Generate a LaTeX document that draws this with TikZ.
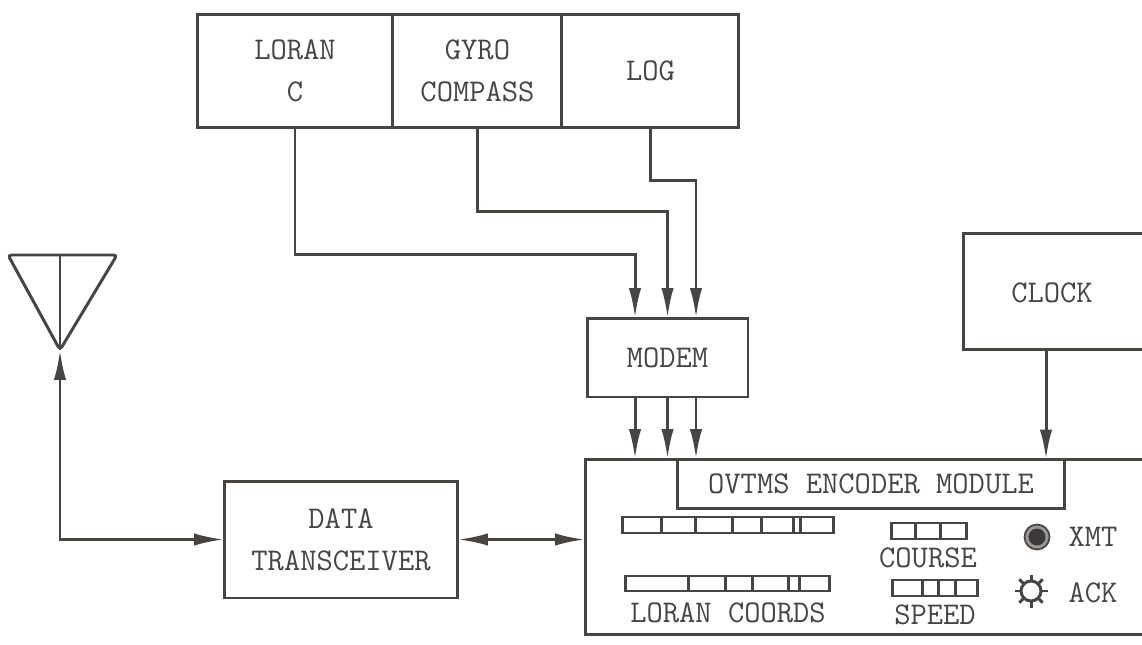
\documentclass[tikz,border=0pt]{standalone}
\usepackage{fontspec}
\usepackage{tikz}
\usetikzlibrary{arrows.meta}
\usetikzlibrary{positioning}
\definecolor{ink}{RGB}{72,68,66}
\newcommand{\typeface}{\ttfamily\fontsize{18}{24}\selectfont}
\tikzset{block/.style={draw=ink, line width=1.7pt, inner sep=0pt, outer sep=0pt, align=center, text=ink, font=\typeface}}
\tikzset{tag/.style={inner sep=0pt, align=center, text=ink, font=\typeface}}
\tikzset{wire/.style={draw=ink, line width=1.7pt}}
\tikzset{flow/.style={wire, -{Latex[length=17pt,width=7pt]}}}
\tikzset{flowboth/.style={wire, {Latex[length=17pt,width=7pt]}-{Latex[length=17pt,width=7pt]}}}

\begin{document}
\begin{tikzpicture}[x=0.02cm,y=-0.02cm]
{
\useasboundingbox (0,0) rectangle (1142,645);
\clip (0,0) rectangle (1142,645);
% sensors
\node[block, minimum width=3.92cm, minimum height=2.28cm] (loran) at (295,71) {LORAN\\C};
\node[block, minimum width=3.38cm, minimum height=2.28cm, right=0pt of loran] (gyro) {GYRO\\COMPASS};
\node[block, minimum width=3.54cm, minimum height=2.28cm, right=0pt of gyro] (log) {LOG};
\node[block, minimum width=3.22cm, minimum height=1.58cm] (modem) at (667.5,357.5) {MODEM};
\node[block, minimum width=4.34cm, minimum height=2.34cm] (clock) at (1071.5,291.5) {};
\node[tag] (clocklbl) at (1052,293) {CLOCK};
\node[block, minimum width=4.68cm, minimum height=2.34cm] (xcvr) at (341,539.5) {DATA\\TRANSCEIVER};
\node[block, minimum width=11.9cm, minimum height=3.52cm] (encoder) at (882.5,547) {};
\node[block, minimum width=7.76cm, minimum height=0.98cm] (module) at (871,484) {OVTMS ENCODER MODULE};
% antenna
\coordinate (antl) at (8,255);
\coordinate (antr) at (117,255);
\coordinate (anttop) at (60,255);
\coordinate (apex) at (60,350);
\draw[wire, rounded corners=2pt] (antl) -- (antr) -- (apex) -- cycle;
\draw[wire] (anttop) -- (apex);
% connections
\draw[flow] (loran.south) -- ++(0,127) -| ([xshift=-0.65cm]modem.north);
\draw[flow] (gyro.south) -- ++(0,84) -| (modem.north);
\draw[flow] (log.south) -- ++(0,53) -| ([xshift=0.57cm]modem.north);
\draw[flow] ([xshift=-0.65cm]modem.south) -- ([xshift=-0.65cm]modem.south |- encoder.north);
\draw[flow] (modem.south) -- (modem.south |- encoder.north);
\draw[flow] ([xshift=0.57cm]modem.south) -- ([xshift=0.57cm]modem.south |- encoder.north);
\draw[flow] ([xshift=-0.51cm]clock.south) -- ([xshift=-0.51cm]clock.south |- module.north);
\draw[flowboth] (apex) |- (xcvr.west);
\draw[flowboth] (xcvr.east) -- (xcvr.east -| encoder.west);
% displays
\draw[wire] (622,517) rectangle (833,533);
\foreach \x in {661,695,732,761,793,800} \draw[wire] (\x,517) -- (\x,533);
\draw[wire] (625,576) rectangle (829,591);
\foreach \x in {688,725,752,788,799} \draw[wire] (\x,576) -- (\x,591);
\draw[wire] (891,523) rectangle (966,539);
\foreach \x in {915,940} \draw[wire] (\x,523) -- (\x,539);
\draw[wire] (892,580) rectangle (977,596);
\foreach \x in {922,938,955} \draw[wire] (\x,580) -- (\x,596);
\node[tag] (coords) at (728,613) {LORAN COORDS};
\node[tag] (course) at (928,558) {COURSE};
\node[tag] (speed) at (935,615) {SPEED};
% lamps
\coordinate (xmtlamp) at (1037,537);
\filldraw[draw=ink, fill=ink!55, line width=1pt] (xmtlamp) circle (0.25cm);
\fill[ink!85!black] (xmtlamp) circle (0.17cm);
\node[tag] (xmt) at (1093,537) {XMT};
\coordinate (acklamp) at (1031,591);
\draw[wire] (acklamp) circle (0.2cm);
\foreach \a in {0,45,...,315} \draw[wire] ([shift={(\a:0.2cm)}]acklamp) -- ([shift={(\a:0.33cm)}]acklamp);
\node[tag] (ack) at (1093,593) {ACK};
}
\end{tikzpicture}
\end{document}
